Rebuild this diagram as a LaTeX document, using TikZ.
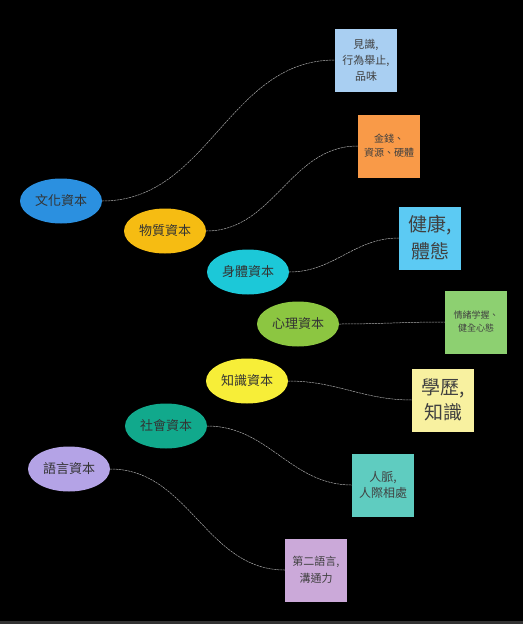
\documentclass[tikz,border=0pt]{standalone}
\usepackage{fontspec}
\setmainfont{Noto Sans CJK TC}
\usepackage{xcolor}
\usetikzlibrary{positioning,shapes.geometric}
\definecolor{wenhuaC}{HTML}{2B90E0}
\definecolor{wuzhiC}{HTML}{F6BC12}
\definecolor{shentiC}{HTML}{1CC8D8}
\definecolor{xinliC}{HTML}{8CC641}
\definecolor{zhishiC}{HTML}{F7EE38}
\definecolor{shehuiC}{HTML}{11A98C}
\definecolor{yuyanC}{HTML}{B4A3E6}
\definecolor{noteA}{HTML}{A9CFF2}
\definecolor{noteB}{HTML}{F99A48}
\definecolor{noteC}{HTML}{5CCAF3}
\definecolor{noteD}{HTML}{8DD071}
\definecolor{noteE}{HTML}{F8F1A0}
\definecolor{noteF}{HTML}{5FCCC0}
\definecolor{noteG}{HTML}{CBA9D9}
\tikzset{
  every picture/.append style={line cap=round,line join=round},
  capital ellipse/.style={ellipse,minimum width=82pt,minimum height=45pt,inner sep=0pt,
    text=black!80,font=\fontsize{13}{15}\selectfont},
  capital note/.style={rectangle,minimum width=62pt,minimum height=63pt,inner sep=0pt,
    text=black!75,align=center},
  capital link/.style={gray!65,line width=0.5pt,dash pattern=on 2pt off 1pt,
    out=0,in=180}
}
\begin{document}
\begin{tikzpicture}[x=1pt,y=-1pt]
  \useasboundingbox (0,0) rectangle (523,624);
  \fill[black] (0,0) rectangle (523,624);
  \fill[black!80] (0,621) rectangle (523,624);
  % capitals
  \node[capital ellipse,fill=wenhuaC] (wenhua) at (61,201) {文化資本};
  \node[capital ellipse,fill=wuzhiC] (wuzhi) at (165,231) {物質資本};
  \node[capital ellipse,fill=shentiC] (shenti) at (248,272) {身體資本};
  \node[capital ellipse,fill=xinliC] (xinli) at (298,324) {心理資本};
  \node[capital ellipse,fill=zhishiC] (zhishi) at (247,381) {知識資本};
  \node[capital ellipse,fill=shehuiC] (shehui) at (166,426) {社會資本};
  \node[capital ellipse,fill=yuyanC] (yuyan) at (69,469) {語言資本};
  % notes
  \node[capital note,fill=noteA,font=\fontsize{11}{16}\selectfont] (jianshi) at (366,60) {見識,\\行為舉止,\\品味};
  \node[capital note,fill=noteB,font=\fontsize{10}{14}\selectfont] (jinqian) at (389,146) {金錢、\\資源、硬體};
  \node[capital note,fill=noteC,font=\fontsize{19}{27}\selectfont] (jiankang) at (430,238) {健康,\\體態};
  \node[capital note,fill=noteD,font=\fontsize{9}{13}\selectfont] (qingxu) at (476,322) {情緒学握、\\健全心態};
  \node[capital note,fill=noteE,font=\fontsize{19}{25}\selectfont] (xueli) at (443,400) {學歷,\\知識};
  \node[capital note,fill=noteF,font=\fontsize{12}{16}\selectfont] (renmai) at (383,485) {人脈,\\人際相處};
  \node[capital note,fill=noteG,font=\fontsize{11}{17}\selectfont] (dier) at (316,570) {第二語言,\\溝通力};
  % links
  \draw[capital link] (wenhua.east) to (jianshi.west);
  \draw[capital link] (wuzhi.east) to (jinqian.west);
  \draw[capital link] (shenti.east) to (jiankang.west);
  \draw[capital link] (xinli.east) to (qingxu.west);
  \draw[capital link] (zhishi.east) to (xueli.west);
  \draw[capital link] (shehui.east) to (renmai.west);
  \draw[capital link] (yuyan.east) to (dier.west);
\end{tikzpicture}
\end{document}
